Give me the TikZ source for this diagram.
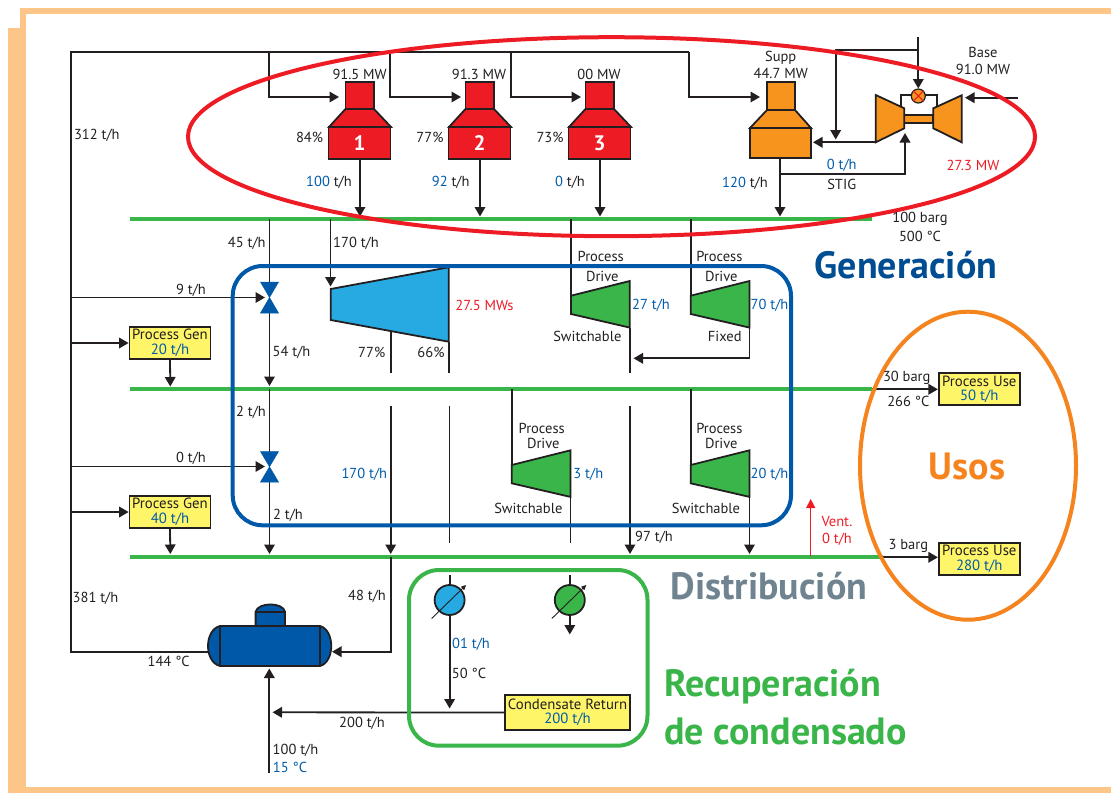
\documentclass[tikz,border=0pt]{standalone}
\usepackage{fontspec}
\setmainfont{PT Sans}
\usetikzlibrary{arrows.meta,calc}
\definecolor{ink}{HTML}{231F20}
\definecolor{peach}{HTML}{FDC588}
\definecolor{bred}{HTML}{ED1C24}
\definecolor{borange}{HTML}{F7941E}
\definecolor{zorange}{HTML}{F5841F}
\definecolor{lblue}{HTML}{27AAE1}
\definecolor{bgreen}{HTML}{39B54A}
\definecolor{dblue}{HTML}{0058A8}
\definecolor{byellow}{HTML}{FFF568}
\definecolor{tblue}{HTML}{005BAA}
\definecolor{dgray}{HTML}{6F8490}
\newcounter{lab}
\newcommand{\tl}[4][]{\stepcounter{lab}\node[lbl,#1] (t\arabic{lab}) at (#2,#3) {#4};}
\newcommand{\BL}[1]{\textcolor{tblue}{#1}}
\tikzset{
 lbl/.style={inner sep=0pt,font=\fontsize{14.5}{16}\selectfont,text=ink,align=center},
 flow/.style={draw=ink,line width=1.8pt,-{Triangle[length=9.5pt,width=10.5pt]}},
 pipe/.style={draw=ink,line width=1.8pt},
 header/.style={draw=bgreen,line width=4pt},
 equip/.style={draw=ink,line width=1.8pt,line join=miter},
 pbox/.style={draw=ink,line width=1.8pt,fill=byellow,inner sep=0pt,align=center,text=ink,font=\fontsize{14.8}{15}\selectfont},
 boilerbody/.style={draw=ink,line width=1.8pt,inner sep=0pt,text=white,font=\bfseries\fontsize{21}{21}\selectfont},
 zone/.style={line width=4pt,fill=none},
 title/.style={inner sep=0pt,font=\bfseries\fontsize{38}{40}\selectfont,align=left},
}
\begin{document}
\begin{tikzpicture}[x=1pt,y=-1pt]
\useasboundingbox (0,0) rectangle (1111,793);
% page border
\fill[peach] (20,8) rectangle (1111,14);
\fill[peach] (20,8) rectangle (25.5,28);
\fill[peach] (8,28) rectangle (25.5,793);
\fill[peach] (8,787) rectangle (1111,793);
% junction coordinates
\coordinate (frameTL) at (71,52);
\coordinate (frameBL) at (71,652);
\coordinate (top1) at (269,52);\coordinate (top2) at (390,52);\coordinate (top3) at (511,52);\coordinate (top4) at (689,52);
\coordinate (c1) at (269,97);\coordinate (c2) at (390,97);\coordinate (c3) at (511,97);\coordinate (c4) at (689,97);
\coordinate (in1) at (339,97);\coordinate (in2) at (461,97);\coordinate (in3) at (581,97);\coordinate (in4) at (760,97);
\coordinate (h1a) at (130,219.3);\coordinate (h1b) at (872,219.3);
\coordinate (h2a) at (130,389.3);\coordinate (h2b) at (872,389.3);
\coordinate (h3a) at (130,557.3);\coordinate (h3b) at (883,557.3);
% headers
\draw[header] (h1a) -- (h1b);
\draw[header] (h2a) -- (h2b);
\draw[header] (h3a) -- (h3b);
% boilers
\foreach \n/\x/\lbl in {1/360/1,2/480/2,3/600/3}{
  \draw[equip,fill=bred] (\x-14.5,82) rectangle (\x+14,109);
  \draw[equip,fill=bred] (\x-14.5,109) -- (\x+14,109) -- (\x+31,127) -- (\x-31,127) -- cycle;
  \node[boilerbody,fill=bred,minimum width=62pt,minimum height=31.5pt] (boil\n) at (\x-.5,143) {\lbl};
}
\draw[equip,fill=borange] (767,82) rectangle (795,110);
\draw[equip,fill=borange] (767,110) -- (795,110) -- (811,128) -- (750,128) -- cycle;
\node[boilerbody,fill=borange,minimum width=61pt,minimum height=30pt] (boil4) at (780.5,143) {};
% steam drum frame
\coordinate (o1) at (360,216.5);\coordinate (o2) at (480,216.5);\coordinate (o3) at (600,216.5);\coordinate (o4) at (780,216.5);
\coordinate (daL) at (208,652);
\draw[pipe] (top4) -- (frameTL) -- (frameBL) -- (daL);
\draw[flow] (top1) -- (c1) -- (in1);
\draw[flow] (top2) -- (c2) -- (in2);
\draw[flow] (top3) -- (c3) -- (in3);
\draw[flow] (top4) -- (c4) -- (in4);
\draw[flow] (boil1.south -| o1) -- (o1);
\draw[flow] (boil2.south -| o2) -- (o2);
\draw[flow] (boil3.south -| o3) -- (o3);
\draw[flow] (boil4.south -| o4) -- (o4);
% gas turbine
\coordinate (fuelTop) at (918.3,37);\coordinate (fuelBr) at (918.3,50);\coordinate (fuelL) at (835.7,50);
\coordinate (fuelEnd) at (835.7,139.5);\coordinate (valveTop) at (918.3,88.5);
\coordinate (exhA) at (875.7,142.3);\coordinate (exhB) at (813,142.3);
\coordinate (stigA) at (780,174);\coordinate (stigB) at (905,174);\coordinate (stigC) at (905,133);
\coordinate (airA) at (1018,97.7);\coordinate (airB) at (965,97.7);
\coordinate (loopLa) at (901,108.3);\coordinate (loopLb) at (901,95);\coordinate (loopRb) at (936.7,95);\coordinate (loopRa) at (936.7,108.3);
\draw[pipe] (loopLa) -- (loopLb) -- (loopRb) -- (loopRa);
\draw[equip,fill=borange] (904,115) rectangle (933.3,122.7);
\draw[equip,fill=borange] (875.7,95) -- (904.3,108.3) -- (904.3,128.3) -- (875.7,142.3) -- cycle;
\draw[equip,fill=borange] (933.3,108.3) -- (961.7,95.3) -- (961.7,142.3) -- (933.3,128.3) -- cycle;
\node[circle,draw=ink,line width=1.2pt,fill=borange,minimum size=14pt,inner sep=0pt] (gtv) at (918.3,96) {};
\draw[bred,line width=1pt] (gtv.north west) -- (gtv.south east) (gtv.north east) -- (gtv.south west);
\draw[flow] (fuelTop) -- (valveTop);
\draw[flow] (fuelBr) -- (fuelL) -- (fuelEnd);
\draw[flow] (exhA) -- (exhB);
\draw[flow] (stigA) -- (stigB) -- (stigC);
\draw[flow] (airA) -- (airB);
% let-down lines and valves
\coordinate (v1t) at (269.5,282);\coordinate (v1b) at (269.5,313);\coordinate (v2t) at (269.5,451.5);\coordinate (v2b) at (269.5,482);
\coordinate (h1v) at (269.5,219.3);\coordinate (h2v) at (269.5,389.3);\coordinate (a2v) at (269.5,386);\coordinate (a3v) at (269.5,554);
\draw[pipe] (h1v) -- (v1t);
\draw[flow] (v1b) -- (a2v);
\draw[pipe] (h2v) -- (v2t);
\draw[flow] (v2b) -- (a3v);
\foreach \n/\t/\b in {1/v1t/v1b,2/v2t/v2b}{
  \draw[dblue,fill=dblue,line width=.5pt,line join=miter] ($(\t)+(-9,0)$) -- ($(\t)+(9,0)$) -- ($(\b)+(-9,0)$) -- ($(\b)+(9,0)$) -- cycle;
}
\coordinate (ll1) at (71,297.5);\coordinate (ll2) at (71,466.5);\coordinate (la1) at (265,297.5);\coordinate (la2) at (265,466.5);
\draw[flow] (ll1) -- (la1);
\draw[flow] (ll2) -- (la2);
% process gen
\node[pbox,minimum width=81pt,minimum height=32pt] (pg1) at (170,343) {Process Gen\\[-.5pt]\BL{20 t/h}};
\node[pbox,minimum width=81pt,minimum height=32pt] (pg2) at (170,512) {Process Gen\\[-.5pt]\BL{40 t/h}};
\coordinate (pl1) at (71,343);\coordinate (pl2) at (71,512);
\draw[flow] (pl1) -- (pg1.west);
\draw[flow] (pl2) -- (pg2.west);
\coordinate (pg1e) at (170.3,386.5);\coordinate (pg2e) at (170.3,554);
\draw[flow] (pg1.south) -- (pg1e);
\draw[flow] (pg2.south) -- (pg2e);
% steam turbine
\coordinate (stIn) at (330.5,219.3);\coordinate (stInE) at (330.5,286.5);
\draw[flow] (stIn) -- (stInE);
\draw[equip,fill=lblue] (330.7,289) -- (448.7,267.3) -- (448.7,341.7) -- (330.7,320) -- cycle;
\coordinate (st1a) at (390.7,331);\coordinate (st1b) at (390.7,373.3);\coordinate (st1c) at (390.7,405.7);\coordinate (st1d) at (390.7,554);
\coordinate (st2a) at (449,341.7);\coordinate (st2b) at (449,373.3);\coordinate (st2c) at (449.5,405.7);\coordinate (st2d) at (449.5,543);
\draw[pipe] (st1a) -- (st1b);\draw[pipe] (st2a) -- (st2b);
\draw[flow] (st1c) -- (st1d);\draw[pipe] (st2c) -- (st2d);
% process drives
\foreach \x/\yt in {571/281,690.7/281,511.7/450.3,690.7/450.3}{
  \draw[equip,fill=bgreen] (\x,\yt+14.7) -- (\x+58.8,\yt) -- (\x+58.8,\yt+46.6) -- (\x,\yt+33) -- cycle;
}
\coordinate (d1i) at (571,219.3);\coordinate (d1t) at (571,295.7);
\coordinate (d2i) at (690.7,219.3);\coordinate (d2t) at (690.7,295.7);
\coordinate (d3i) at (511.7,389.3);\coordinate (d3t) at (511.7,465);
\coordinate (d4i) at (690.7,389.3);\coordinate (d4t) at (690.7,465);
\draw[pipe] (d1i) -- (d1t);\draw[pipe] (d2i) -- (d2t);\draw[pipe] (d3i) -- (d3t);\draw[pipe] (d4i) -- (d4t);
\coordinate (d1o) at (629.8,327.6);\coordinate (d1e) at (629.8,373.3);
\coordinate (d2o) at (749.5,327.6);\coordinate (d2c) at (749.5,358.3);\coordinate (d2e) at (633.5,358.3);
\coordinate (d3o) at (570.5,496.9);\coordinate (d3e) at (570.5,542.7);
\coordinate (d4o) at (749.5,496.9);\coordinate (d4e) at (749.5,554);
\coordinate (m1) at (630,405.7);\coordinate (m2) at (630,554);
\draw[pipe] (d1o) -- (d1e);\draw[flow] (d2o) -- (d2c) -- (d2e);
\draw[pipe] (d3o) -- (d3e);\draw[flow] (d4o) -- (d4e);\draw[flow] (m1) -- (m2);
% vent
\coordinate (ventA) at (810.7,555.5);\coordinate (ventB) at (810.7,499);
\draw[bred,line width=1.3pt,-{Triangle[length=9pt,width=9pt]}] (ventA) -- (ventB);
% process use
\node[pbox,minimum width=81pt,minimum height=32pt] (pu1) at (979.3,389.3) {Process Use\\[-.5pt]\BL{50 t/h}};
\node[pbox,minimum width=81pt,minimum height=32pt] (pu2) at (979.3,558.7) {Process Use\\[-.5pt]\BL{280 t/h}};
\draw[flow] (h2b) -- (pu1.west);
\draw[flow] (h3b) -- (pu2.west |- h3b);
% deaerator
\draw[equip,fill=dblue] (255.6,626) -- (255.6,611.7) .. controls (258,602) and (283,602) .. (285,611.7) -- (285,626) -- cycle;
\draw[equip] (255.6,611.7) -- (285,611.7);
\draw[equip,fill=dblue] (220,626) -- (320,626) .. controls (335,630) and (335,662) .. (320,666) -- (220,666) .. controls (204,662) and (204,630) .. (220,626) -- cycle;
\draw[equip] (220,626) -- (220,666) (320,626) -- (320,666);
\coordinate (daR) at (332,651.7);\coordinate (b1) at (390.7,557.3);\coordinate (b2) at (390.7,651.7);
\draw[flow] (b1) -- (b2) -- (daR);
\coordinate (mkA) at (269.3,773);\coordinate (mkB) at (269.3,668.5);
\draw[flow] (mkA) -- (mkB);
% condensate
\node[pbox,minimum width=125pt,minimum height=35pt] (cr) at (567.5,712.5) {Condensate Return\\[-.5pt]\BL{200 t/h}};
\coordinate (crE) at (272.5,712.3);
\draw[flow] (cr.west) -- (crE);
\foreach \x/\nm/\col in {449.6/hx1/lblue,569.8/hx2/bgreen}{
  \coordinate (\nm t) at (\x,575);
  \draw[pipe] (\nm t) -- (\x,586);
  \node[draw=ink,line width=1.8pt,fill=\col,circle,minimum size=30pt,inner sep=0pt] (\nm) at (\x,600) {};
  \draw[ink,line width=.9pt,-{Triangle[length=5pt,width=4.5pt]}] (\x-18,618.5) -- (\x+16.5,585);
}
\coordinate (hx1e) at (449.6,708.5);\coordinate (hx2e) at (569.8,634.5);
\draw[flow] (hx1.south) -- (hx1e);
\draw[flow] (hx2.south) -- (hx2e);
% zones
\draw[zone,draw=bred] (611.5,136.7) ellipse [x radius=423.5pt,y radius=99.5pt];
\draw[zone,draw=dblue,rounded corners=30pt] (232.7,266) rectangle (791,525.3);
\draw[zone,draw=bgreen,rounded corners=30pt] (409,570) rectangle (647.5,745.7);
\draw[zone,draw=zorange] (968,465.7) ellipse [x radius=108pt,y radius=154pt];
% labels
\tl{359.6}{74.7}{91.5 MW}\tl{479}{74.7}{91.3 MW}\tl{599}{74.7}{00 MW}
\tl{309.6}{137}{84\%}\tl{430}{137}{77\%}\tl{550}{137}{73\%}
\tl{329}{182.7}{\BL{100} t/h}\tl{450.7}{182.7}{\BL{92} t/h}\tl{570}{182.7}{\BL{0} t/h}\tl{745}{183}{\BL{120} t/h}
\tl{96.8}{135.7}{312 t/h}\tl{246.8}{243}{45 t/h}\tl{356}{243}{170 t/h}
\tl{780.7}{57.3}{Supp}\tl{780.7}{73.3}{44.7 MW}\tl{983}{52.3}{Base}\tl{983}{69.3}{91.0 MW}
\tl{841.7}{165}{\BL{0 t/h}}\tl{841.7}{184}{STIG}\tl{973}{165.7}{\textcolor{bred}{27.3 MW}}
\tl{920}{219.3}{100 barg}\tl{920}{236}{500 °C}
\tl{191}{290}{9 t/h}\tl{291.5}{352}{54 t/h}\tl{371.7}{352}{77\%}\tl{431}{352}{66\%}
\tl{484.5}{305.7}{\textcolor{bred}{27.5 MWs}}\tl{251}{412.7}{2 t/h}\tl{191}{458.3}{0 t/h}
\tl{364.3}{474.3}{\BL{170 t/h}}\tl{288}{515.7}{2 t/h}
\tl{600.7}{256.7}{Process}\tl{602.3}{276.7}{Drive}\tl{651}{305.7}{\BL{27 t/h}}\tl{587.3}{336.7}{Switchable}
\tl{719.3}{256.7}{Process}\tl{721.3}{276.7}{Drive}\tl{769.5}{305.7}{\BL{70 t/h}}\tl{724.7}{336.7}{Fixed}
\tl{541.7}{428.7}{Process}\tl{543.3}{443.3}{Drive}\tl{588.3}{474.3}{\BL{3 t/h}}\tl{528.3}{508.3}{Switchable}
\tl{719.3}{428.7}{Process}\tl{721.3}{443.3}{Drive}\tl{769.5}{474.3}{\BL{20 t/h}}\tl{706}{508.3}{Switchable}
\tl{654}{537.3}{97 t/h}
\tl{837}{522}{\textcolor{bred}{Vent.}}\tl{837}{539}{\textcolor{bred}{0 t/h}}
\tl{906.7}{378.3}{30 barg}\tl{908.3}{401.7}{266 °C}\tl{908.3}{546}{3 barg}
\tl{95.5}{598.3}{381 t/h}\tl{367}{596.7}{48 t/h}\tl{168.7}{661.7}{144 °C}
\tl{471}{644}{\BL{01 t/h}}\tl{469}{673}{50 °C}\tl{362}{723}{200 t/h}
\tl{295.5}{750.7}{100 t/h}\tl{290}{767.3}{\BL{15 °C}}
% titles
\node[title,text=tblue!85!black] (tgen) at (906,265) {Generación};
\node[title,text=zorange] (tuso) at (967,466) {Usos};
\node[title,text=dgray] (tdis) at (769,586) {Distribución};
\node[title,text=bgreen,anchor=west] (trec) at (664,686.5) {Recuperación};
\node[title,text=bgreen,anchor=west] (tcon) at (664,731.5) {de condensado};
\end{tikzpicture}
\end{document}
